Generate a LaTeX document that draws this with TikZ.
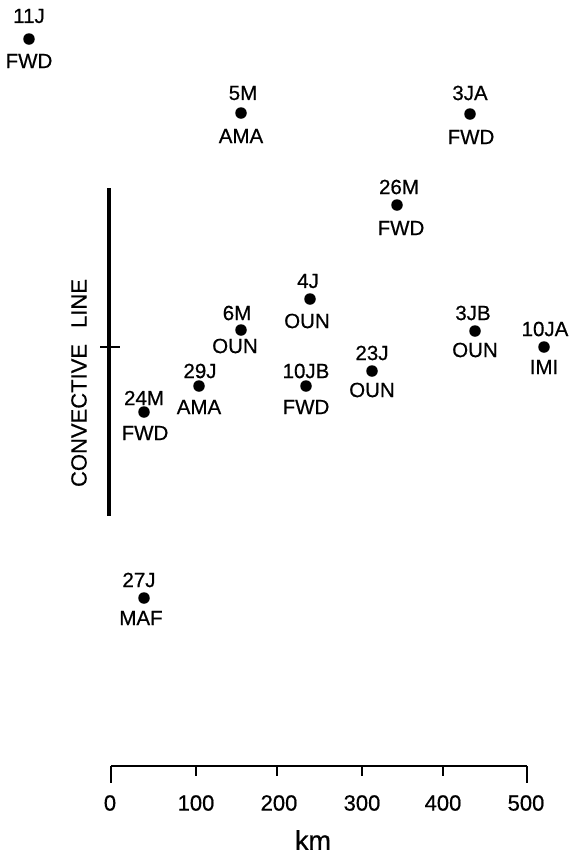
\documentclass[tikz,border=0pt]{standalone}
\usepackage{fontspec}
\setmainfont{Liberation Sans}[FakeBold=0.6]
\begin{document}
\begin{tikzpicture}[x=1pt,y=-1pt,
  dot/.style={circle,fill=black,inner sep=0pt,minimum size=11.5pt},
  lab/.style={inner sep=0pt,font=\fontsize{20.5}{20.5}\selectfont},
  axlab/.style={inner sep=0pt,font=\fontsize{22}{22}\selectfont},
  thickline/.style={line width=3.4pt},
  axline/.style={line width=2pt}]
\useasboundingbox (0,0) rectangle (576,855);
% stations
\node[dot] (p11J) at (29,39) {};
\node[lab] (t11J) at (29,16) {11J};
\node[lab] (b11J) at (29,61) {FWD};
\node[dot] (p5M) at (241,113) {};
\node[lab] (t5M) at (243,93) {5M};
\node[lab] (b5M) at (241,136) {AMA};
\node[dot] (p3JA) at (470,114) {};
\node[lab] (t3JA) at (470,93) {3JA};
\node[lab] (b3JA) at (471,137) {FWD};
\node[dot] (p26M) at (397,205) {};
\node[lab] (t26M) at (399,187) {26M};
\node[lab] (b26M) at (401,228) {FWD};
\node[dot] (p4J) at (310,299) {};
\node[lab] (t4J) at (308,281) {4J};
\node[lab] (b4J) at (307,321) {OUN};
\node[dot] (p6M) at (241,330) {};
\node[lab] (t6M) at (237,313) {6M};
\node[lab] (b6M) at (235,346) {OUN};
\node[dot] (p3JB) at (475,331) {};
\node[lab] (t3JB) at (473,313) {3JB};
\node[lab] (b3JB) at (475,350) {OUN};
\node[dot] (p10JA) at (544,347) {};
\node[lab] (t10JA) at (545,329) {10JA};
\node[lab] (b10JA) at (544,367) {IMI};
\node[dot] (p29J) at (199,386) {};
\node[lab] (t29J) at (200,371) {29J};
\node[lab] (b29J) at (199,407) {AMA};
\node[dot] (p10JB) at (306,386) {};
\node[lab] (t10JB) at (306,371) {10JB};
\node[lab] (b10JB) at (306,407) {FWD};
\node[dot] (p23J) at (372,371) {};
\node[lab] (t23J) at (372,353) {23J};
\node[lab] (b23J) at (372,390) {OUN};
\node[dot] (p24M) at (144,412) {};
\node[lab] (t24M) at (144,398) {24M};
\node[lab] (b24M) at (145,433) {FWD};
\node[dot] (p27J) at (144,598) {};
\node[lab] (t27J) at (139,580) {27J};
\node[lab] (b27J) at (141,618) {MAF};
% convective line
\coordinate (cltop) at (109,188);
\coordinate (clbot) at (109,516);
\coordinate (tickl) at (100,347);
\coordinate (tickr) at (120,347);
\draw[thickline] (cltop) -- (clbot);
\draw[axline] (tickl) -- (tickr);
\node[inner sep=0pt,font=\fontsize{22}{22}\selectfont,rotate=90] (cltext) at (79,383) {CONVECTIVE\hspace{16pt}LINE};
% scale bar
\coordinate (s0) at (111,766);
\coordinate (s5) at (527,766);
\draw[axline] (s0) -- (s5);
\foreach \k/\xx in {0/111,5/527}{
  \coordinate (e\k) at (\xx,783);
  \draw[axline] (\xx,766) -- (e\k);
}
\foreach \k/\xx in {1/196,2/277,3/362,4/443}{
  \coordinate (m\k) at (\xx,776);
  \draw[axline] (\xx,766) -- (m\k);
}
\node[axlab] (l0) at (110,803) {0};
\node[axlab] (l1) at (196,803) {100};
\node[axlab] (l2) at (279,803) {200};
\node[axlab] (l3) at (362,803) {300};
\node[axlab] (l4) at (443,803) {400};
\node[axlab] (l5) at (526,803) {500};
\node[inner sep=0pt,font=\fontsize{27}{27}\selectfont] (km) at (313,840) {km};
\end{tikzpicture}
\end{document}
